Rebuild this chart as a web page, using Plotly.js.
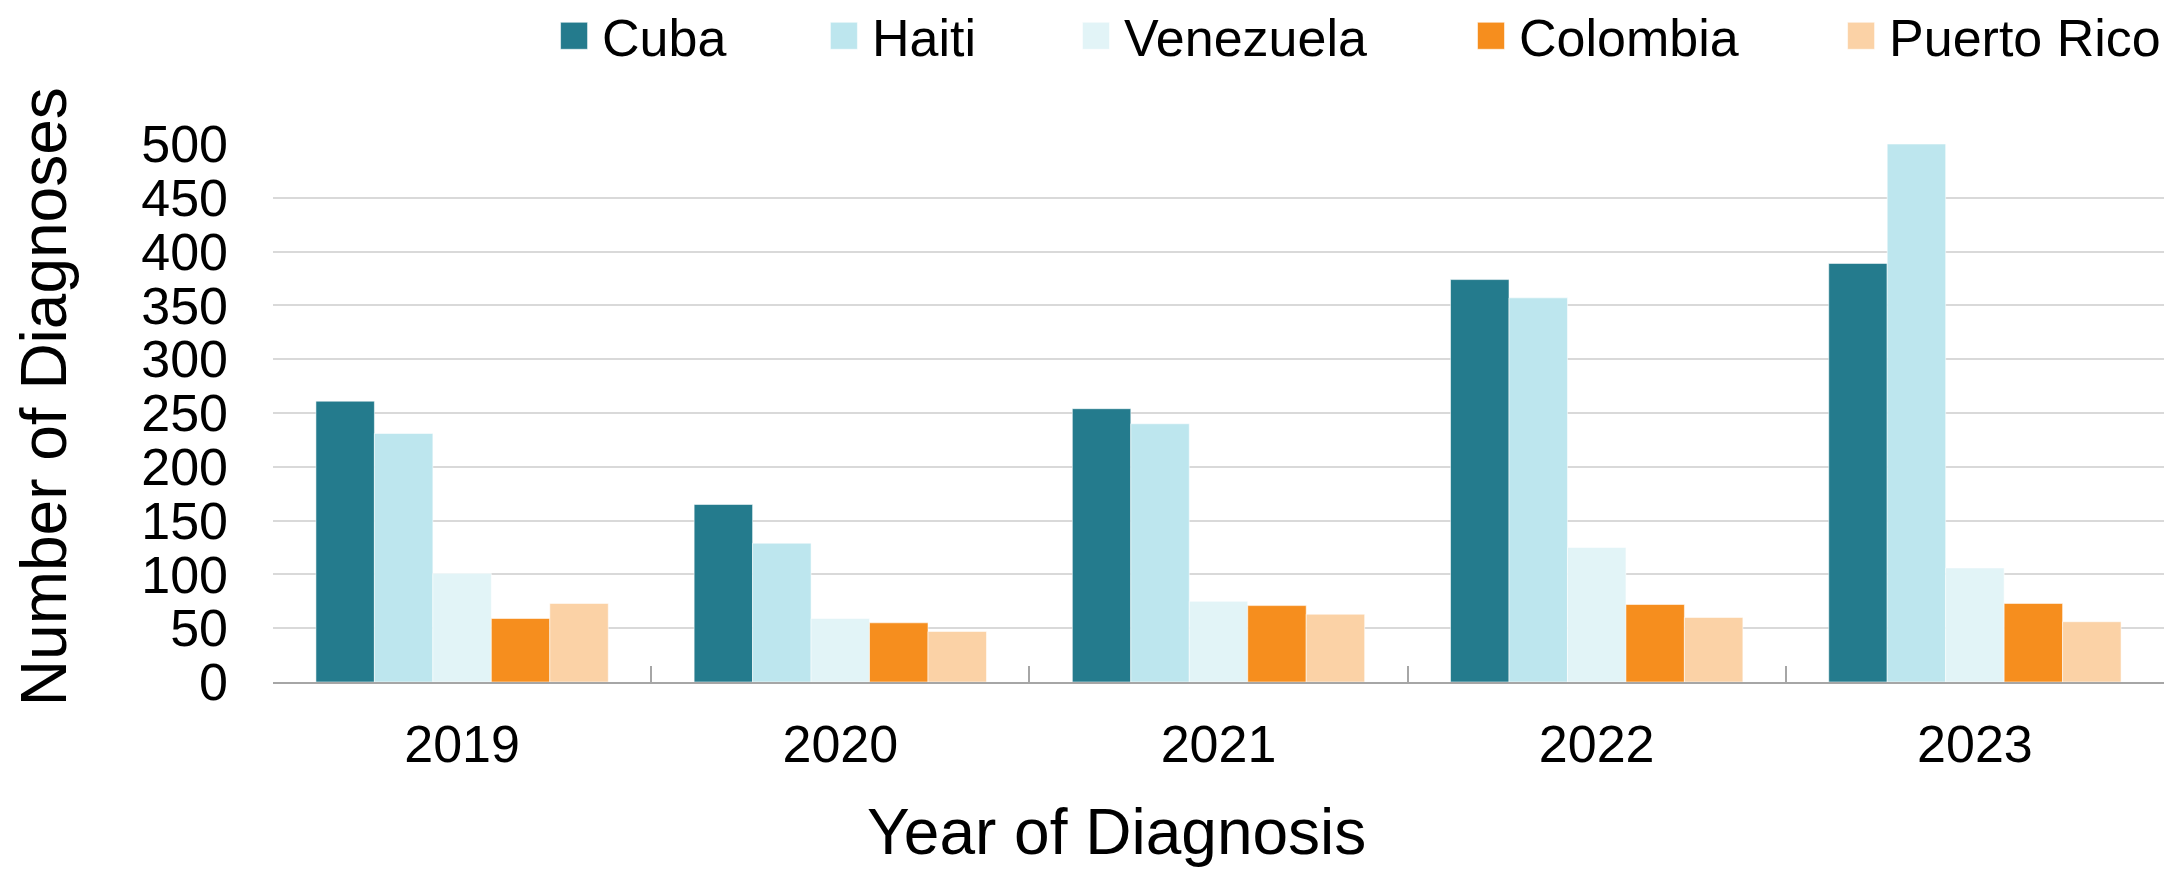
<!DOCTYPE html>
<html>
<head>
<meta charset="utf-8">
<script src="https://cdn.plot.ly/plotly-3.0.1.min.js"></script>
<style>html,body{margin:0;padding:0;background:#fff;}#chart{width:2169px;height:869px;}</style>
</head>
<body>
<div id="chart"></div>
<script>
const years = ['2019', '2020', '2021', '2022', '2023'];
const seriesNames = ['Cuba', 'Haiti', 'Venezuela', 'Colombia', 'Puerto Rico'];
const cuba = [261, 165, 254, 374, 389];
const haiti = [231, 129, 240, 357, 500];
const venezuela = [101, 59, 75, 125, 106];
const colombia = [59, 55, 71, 72, 73];
const puertoRico = [73, 47, 63, 60, 56];
const yTicks = [0, 50, 100, 150, 200, 250, 300, 350, 400, 450, 500];
const xTitle = 'Year of Diagnosis';
const yTitle = 'Number of Diagnoses';

const colors = ['#247B8D', '#BDE6EE', '#E2F4F7', '#F68E1E', '#FBD2A6'];
const seriesValues = [cuba, haiti, venezuela, colombia, puertoRico];
const legendIds = ['legend', 'legend2', 'legend3', 'legend4', 'legend5'];
const legendX = [0.1444, 0.2871, 0.4204, 0.6293, 0.8250];

const FONT = 'Liberation Sans, Arial, sans-serif';

const traces = seriesNames.map((name, i) => ({
  type: 'bar',
  name: name,
  x: years,
  y: seriesValues[i],
  legend: legendIds[i],
  marker: {color: colors[i], line: {color: 'rgba(255,255,255,0.55)', width: 1}},
  hoverinfo: 'x+y+name'
}));

const layout = {
  width: 2169,
  height: 869,
  paper_bgcolor: '#ffffff',
  plot_bgcolor: '#ffffff',
  font: {family: FONT, color: '#000000', size: 52},
  margin: {l: 273, r: 5, t: 144, b: 187, autoexpand: false},
  barmode: 'group',
  bargap: 0.227,
  bargroupgap: 0,
  xaxis: {
    type: 'category',
    tickson: 'boundaries',
    ticks: 'inside',
    ticklen: 16,
    tickwidth: 2,
    tickcolor: '#A6A6A6',
    showline: true,
    linecolor: '#A6A6A6',
    linewidth: 2,
    showgrid: false,
    tickfont: {family: FONT, size: 52, color: '#000'},
    ticklabelstandoff: 16,
    automargin: false
  },
  yaxis: {
    range: [0, 500],
    tickvals: yTicks,
    ticktext: yTicks.map(String),
    showgrid: true,
    gridcolor: '#D9D9D9',
    gridwidth: 2,
    zeroline: false,
    showline: false,
    ticks: '',
    tickfont: {family: FONT, size: 52, color: '#000'},
    ticklabelstandoff: 44,
    automargin: false
  },
  annotations: [
    {text: xTitle, xref: 'paper', yref: 'paper', x: 0.4458, y: -0.2795,
     xanchor: 'center', yanchor: 'middle', showarrow: false,
     font: {family: FONT, size: 64, color: '#000'}},
    {text: yTitle, xref: 'paper', yref: 'paper', x: -0.1211, y: 0.5313,
     xanchor: 'center', yanchor: 'middle', showarrow: false, textangle: -90,
     font: {family: FONT, size: 64, color: '#000'}}
  ],
  showlegend: true
};

legendIds.forEach((id, i) => {
  layout[id] = {
    orientation: 'h',
    x: legendX[i],
    xanchor: 'left',
    y: 1.2008,
    yanchor: 'middle',
    itemwidth: 46,
    font: {family: FONT, size: 52, color: '#000'},
    bgcolor: 'rgba(0,0,0,0)',
    borderwidth: 0,
    itemclick: false,
    itemdoubleclick: false
  };
});

const gd = document.getElementById('chart');
function enlargeSwatches() {
  gd.querySelectorAll('.legendpoints path').forEach(p => {
    p.setAttribute('d', 'M13.5,13.5H-13.5V-13.5H13.5Z');
  });
}
Plotly.newPlot(gd, traces, layout, {displayModeBar: false, staticPlot: true}).then(() => {
  enlargeSwatches();
  gd.on && gd.on('plotly_afterplot', enlargeSwatches);
});
</script>
</body>
</html>
